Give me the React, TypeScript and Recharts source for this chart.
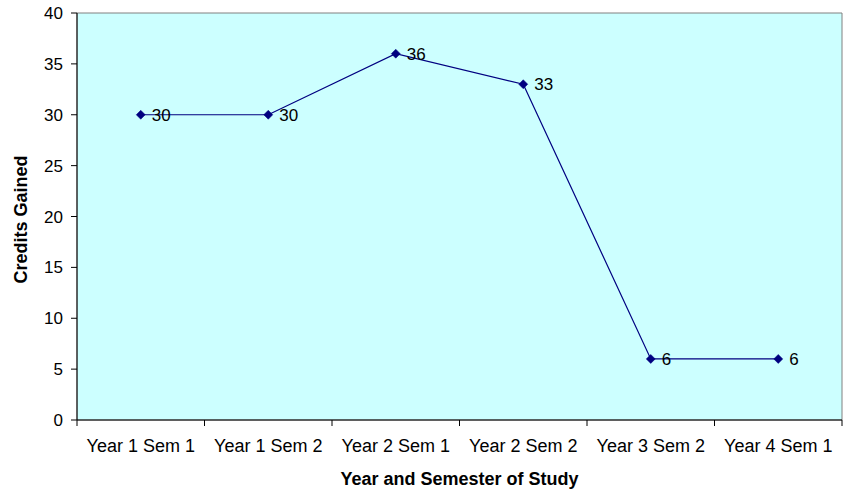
import React from 'react';
import {
  LineChart, Line, XAxis, YAxis, ReferenceArea, LabelList, Label,
} from 'recharts';

const semesters = [
  'Year 1 Sem 1',
  'Year 1 Sem 2',
  'Year 2 Sem 1',
  'Year 2 Sem 2',
  'Year 3 Sem 2',
  'Year 4 Sem 1',
];
const creditsGained = [30, 30, 36, 33, 6, 6];
const creditTicks = [0, 5, 10, 15, 20, 25, 30, 35, 40];

const data = semesters.map((semester, i) => ({ semester, credits: creditsGained[i] }));

const FONT = '"Liberation Sans", Arial, Helvetica, sans-serif';
const NAVY = '#000080';

// Excel-style diamond marker
const Diamond = ({ cx, cy }: any) => {
  if (cx == null || cy == null) return null;
  const r = 4.5;
  return (
    <polygon
      points={`${cx},${cy - r} ${cx + r},${cy} ${cx},${cy + r} ${cx - r},${cy}`}
      fill={NAVY}
      stroke={NAVY}
      strokeWidth={0.5}
    />
  );
};

// category label plus tick marks on the band edges (not the centres)
const SemesterTick = ({ x, y, payload, index }: any) => {
  const half = payload.offset || 0;
  const left = payload.coordinate - half;
  const right = payload.coordinate + half;
  return (
    <g>
      <line x1={left} y1={y} x2={left} y2={y + 6} stroke="#000" />
      {index === semesters.length - 1 && (
        <line x1={right} y1={y} x2={right} y2={y + 6} stroke="#000" />
      )}
      <text x={x} y={y + 19} dy="0.71em" textAnchor="middle" fontSize={18} fill="#000" fontFamily={FONT}>
        {payload.value}
      </text>
    </g>
  );
};

const ValueLabel = ({ x, y, value }: any) => (
  <text x={x + 11} y={y} dy="0.36em" fontSize={17} fill="#000" fontFamily={FONT}>
    {value}
  </text>
);

export default function App() {
  return (
    <div style={{ width: 848, height: 489, background: '#fff' }}>
      <style>{'body{margin:0}'}</style>
      <LineChart
        width={848}
        height={489}
        data={data}
        margin={{ top: 13, right: 6, left: 0, bottom: 0 }}
        style={{ fontFamily: FONT }}
      >
        <ReferenceArea y1={0} y2={40} fill="#CCFFFF" fillOpacity={1} stroke="#808080" strokeWidth={1} />
        <XAxis
          dataKey="semester"
          scale="band"
          height={69}
          tickLine={false}
          tickSize={0}
          tickMargin={0}
          axisLine={{ stroke: '#000', strokeWidth: 1 }}
          tick={<SemesterTick />}
          interval={0}
        >
          <Label
            value="Year and Semester of Study"
            position="insideBottom"
            offset={4}
            fontSize={18}
            fontWeight="bold"
            fill="#000"
            fontFamily={FONT}
          />
        </XAxis>
        <YAxis
          width={77}
          domain={[0, 40]}
          ticks={creditTicks}
          interval={0}
          tickSize={6}
          tickMargin={8}
          tickLine={{ stroke: '#000' }}
          axisLine={{ stroke: '#000', strokeWidth: 1 }}
          tick={{ fontSize: 17, fill: '#000', fontFamily: FONT }}
          label={({ viewBox }: any) => {
            const cx = viewBox.x + 21;
            const cy = viewBox.y + viewBox.height / 2 + 3;
            return (
              <text
                x={cx}
                y={cy}
                transform={`rotate(-90, ${cx}, ${cy})`}
                textAnchor="middle"
                dominantBaseline="central"
                fontSize={18}
                fontWeight="bold"
                fill="#000"
                fontFamily={FONT}
              >
                Credits Gained
              </text>
            );
          }}
        />
        <Line
          type="linear"
          dataKey="credits"
          stroke={NAVY}
          strokeWidth={1.2}
          dot={<Diamond />}
          activeDot={false}
          isAnimationActive={false}
        >
          <LabelList dataKey="credits" content={<ValueLabel />} />
        </Line>
      </LineChart>
    </div>
  );
}
